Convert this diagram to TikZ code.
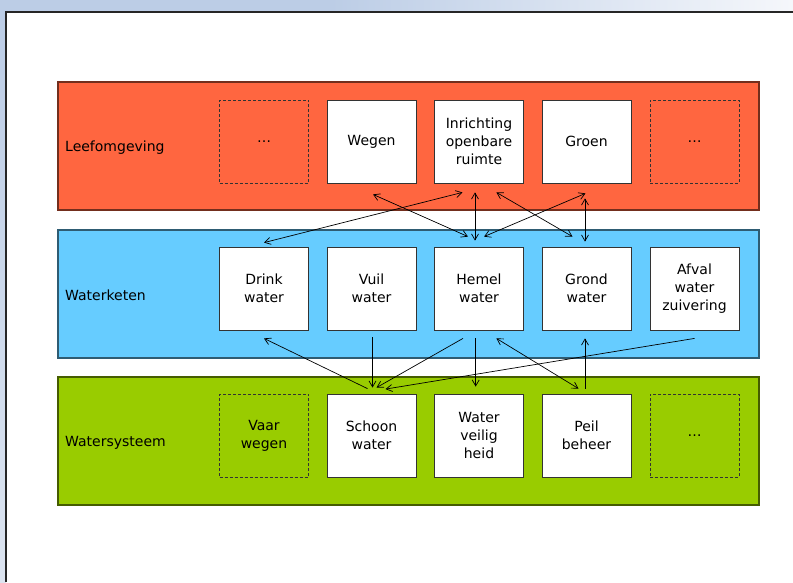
\documentclass[tikz,border=0pt]{standalone}
\usepackage{fontspec}
\setmainfont{DejaVu Sans}
\usetikzlibrary{arrows.meta,calc}
\definecolor{redband}{HTML}{FF6640}
\definecolor{blueband}{HTML}{66CCFF}
\definecolor{greenband}{HTML}{99CC00}
\definecolor{bgblue}{HTML}{BCCDE6}
\definecolor{bglight}{HTML}{F5F7FB}
\definecolor{bgleft}{HTML}{DCE4F0}
\begin{document}
\begin{tikzpicture}[x=1pt,y=-1pt,
  band/.style={draw=#1!45!black, fill=#1, line width=1.2pt, minimum width=701pt, minimum height=128pt, inner sep=0pt},
  box/.style={draw=black!80, fill=white, line width=0.8pt, minimum width=89pt, minimum height=83pt, inner sep=0pt, align=center, font=\fontsize{14}{18}\selectfont},
  dbox/.style={box, fill=none, dash pattern=on 3pt off 2pt},
  lab/.style={anchor=west, font=\fontsize{14}{18}\selectfont, inner sep=0pt},
  tip/.tip={Straight Barb[length=6pt,width=7pt]},
  conn/.style={line width=0.7pt, tip-tip},
  sconn/.style={line width=0.7pt, -tip}]
\useasboundingbox (0,0) rectangle (793,582);
% window background
\fill[bgblue] (0,0) rectangle (330,12);
\shade[left color=bgblue, right color=bglight] (330,0) rectangle (793,12);
\shade[top color=bgblue, bottom color=bgleft] (0,12) rectangle (6,582);
\fill[white] (6,12) rectangle (793,582);
\draw[line width=2pt, black!85] (793,12) -- (6,12) -- (6,582);
% bands
\node[band=redband] (lb) at (408.5,146) {};
\node[band=blueband] (kb) at (408.5,294) {};
\node[band=greenband] (sb) at (408.5,441) {};
\node[lab] (lt) at (65,148) {Leefomgeving};
\node[lab] (kt) at (65,295) {Waterketen};
\node[lab] (st) at (65,443) {Watersysteem};
% row 1
\node[dbox] (l1) at (264,141.5) {…};
\node[box] (l2) at (371.5,141.5) {Wegen};
\node[box] (l3) at (479,141.5) {Inrichting\\openbare\\ruimte};
\node[box] (l4) at (586.5,141.5) {Groen};
\node[dbox] (l5) at (694.5,141.5) {…};
% row 2
\node[box] (k1) at (264,288.5) {Drink\\water};
\node[box] (k2) at (371.5,288.5) {Vuil\\water};
\node[box] (k3) at (479,288.5) {Hemel\\water};
\node[box] (k4) at (586.5,288.5) {Grond\\water};
\node[box] (k5) at (694.5,288.5) {Afval\\water\\zuivering};
% row 3
\node[dbox] (s1) at (264,435.5) {Vaar\\wegen};
\node[box] (s2) at (371.5,435.5) {Schoon\\water};
\node[box] (s3) at (479,435.5) {Water\\veilig\\heid};
\node[box] (s4) at (586.5,435.5) {Peil\\beheer};
\node[dbox] (s5) at (694.5,435.5) {…};
% upper connectors
\draw[conn] ($(l2.south)+(1.5,11)$) -- ($(k3.north)+(-11,-10)$);
\draw[conn] ($(l3.south)+(-16.5,9)$) -- ($(k1.north)+(0,-4)$);
\draw[conn] ($(l3.south)+(-4,9)$) -- ($(k3.north)+(-4,-6)$);
\draw[conn] ($(l3.south)+(17.4,9)$) -- ($(k4.north)+(-14,-10)$);
\draw[conn] ($(l4.south)+(-1,10)$) -- ($(k3.north)+(5,-10)$);
\draw[conn] ($(l4.south)+(-1.5,15)$) -- ($(k4.north)+(-1.5,-5)$);
% lower connectors
\draw[sconn] ($(s2.north)+(-4,-5)$) -- ($(k1.south)+(0,8)$);
\draw[sconn] ($(k2.south)+(1,7)$) -- ($(s2.north)+(1,-6)$);
\draw[sconn] ($(k3.south)+(-16,8)$) -- ($(s2.north)+(5,-6)$);
\draw[sconn] ($(k3.south)+(-3.3,8)$) -- ($(s3.north)+(-3.3,-7)$);
\draw[conn] ($(k3.south)+(17.4,8)$) -- ($(s4.north)+(-8,-5)$);
\draw[sconn] ($(s4.north)+(-1.5,-5)$) -- ($(k4.south)+(-1.5,8)$);
\draw[sconn] ($(k5.south)+(0,8)$) -- ($(s2.north)+(14,-4.5)$);
\end{tikzpicture}
\end{document}
